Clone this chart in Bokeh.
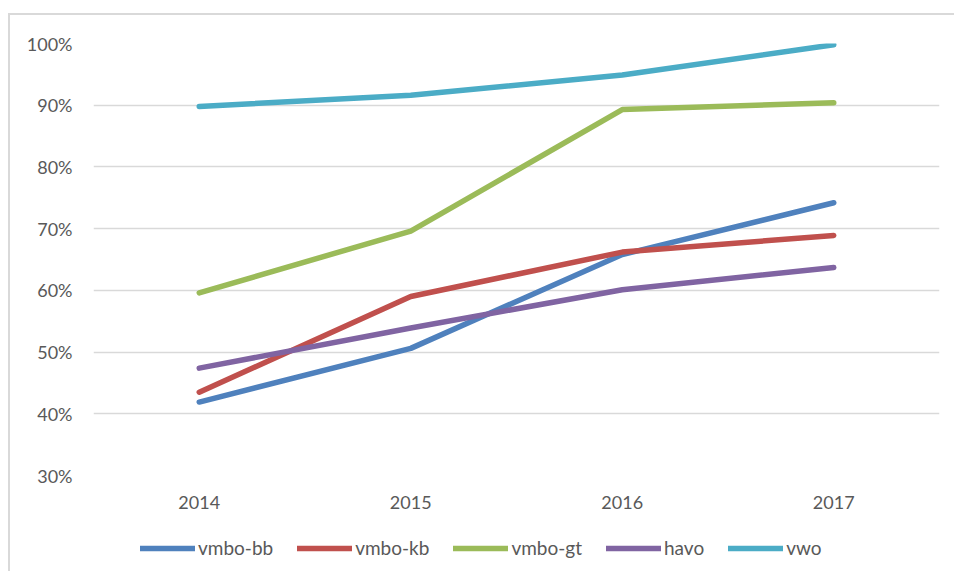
from bokeh.plotting import figure
from bokeh.layouts import column
from bokeh.models import Legend, LegendItem, FactorRange, NumeralTickFormatter, FixedTicker, Range1d
from bokeh.embed import file_html
from bokeh.resources import INLINE

years = ["2014", "2015", "2016", "2017"]
vmbo_bb = [41.9, 50.6, 65.8, 74.2]
vmbo_kb = [43.5, 59.0, 66.2, 68.9]
vmbo_gt = [59.6, 69.6, 89.3, 90.4]
havo = [47.4, 53.9, 60.1, 63.7]
vwo = [89.8, 91.6, 94.9, 99.8]

series_names = ["vmbo-bb", "vmbo-kb", "vmbo-gt", "havo", "vwo"]
series_values = [vmbo_bb, vmbo_kb, vmbo_gt, havo, vwo]
colors = ["#4F81BD", "#C0504D", "#9BBB59", "#8064A2", "#4BACC6"]
y_ticks = [0.3, 0.4, 0.5, 0.6, 0.7, 0.8, 0.9, 1.0]

FONT = "Lato"
TXT = "#595959"
LW = 5.5

p = figure(width=944, height=510, x_range=FactorRange(*years, range_padding=0),
           y_range=Range1d(0.3, 1.0), output_backend="svg", toolbar_location=None,
           min_border_left=83, min_border_right=15, min_border_top=28, min_border_bottom=50)
p.outline_line_color = None
p.background_fill_color = "white"
p.border_fill_color = "white"

for name, vals, c in zip(series_names, series_values, colors):
    p.line(years, [v / 100 for v in vals], line_color=c, line_width=LW,
           line_cap="round", line_join="round")

p.xgrid.grid_line_color = None
p.ygrid.grid_line_color = "#d9d9d9"
p.ygrid.grid_line_width = 1.5
p.yaxis.ticker = FixedTicker(ticks=y_ticks)
p.yaxis.formatter = NumeralTickFormatter(format="0%")
for ax in (p.xaxis[0], p.yaxis[0]):
    ax.axis_line_color = None
    ax.major_tick_line_color = None
    ax.minor_tick_line_color = None
    ax.major_label_text_font = FONT
    ax.major_label_text_font_size = "18px"
    ax.major_label_text_color = TXT
p.yaxis.major_label_standoff = 15
p.xaxis.major_label_standoff = 14

# legend panel
lg = figure(width=944, height=46, x_range=Range1d(0, 1), y_range=Range1d(0, 1),
            output_backend="svg", toolbar_location=None,
            min_border_left=0, min_border_right=0, min_border_top=0, min_border_bottom=0)
lg.axis.visible = False
lg.grid.visible = False
lg.outline_line_color = None
items = []
for name, c in zip(series_names, colors):
    r = lg.line(x=[-10, -9], y=[-10, -10], line_color=c, line_width=LW, line_cap="round")
    items.append(LegendItem(label=name, renderers=[r]))
legend = Legend(items=items, orientation="horizontal", location=(47, 12),
                glyph_width=55, glyph_height=12, label_standoff=3, spacing=24,
                label_text_font=FONT, label_text_font_size="19px", label_text_color=TXT,
                border_line_color=None, background_fill_alpha=0, margin=0, padding=6)
lg.add_layout(legend, "center")

layout = column(p, lg, spacing=0,
                styles={"border-left": "2px solid #d9d9d9", "border-top": "2px solid #d9d9d9",
                        "margin-left": "8px", "margin-top": "13px"})

open("out.html", "w").write(file_html(layout, INLINE))
